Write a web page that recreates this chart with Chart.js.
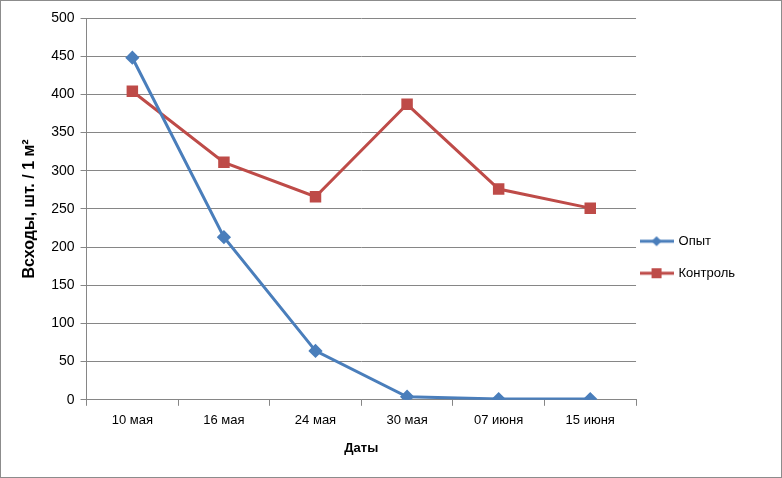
<!DOCTYPE html>
<html>
<head>
<meta charset="utf-8">
<script src="https://cdn.jsdelivr.net/npm/chart.js@4"></script>
<style>
    html, body { margin: 0; padding: 0; background: #fff; }
    #wrap { width: 780px; height: 476px; border: 1px solid #8c8c8c; position: relative; }
</style>
</head>
<body>
<div id="wrap"><canvas id="chart" width="780" height="476"></canvas></div>
<script>
const dates = ["10 мая", "16 мая", "24 мая", "30 мая", "07 июня", "15 июня"];
const opyt = [448, 213, 64, 4, 1, 1];
const kontrol = [404, 311, 266, 387, 276, 251];

const blue = "#4A7EBB";
const red = "#BE4B48";
const font = "'Liberation Sans', Arial, sans-serif";

// значок легенды: линия с маркером, как в Excel
function legendIcon(color, style) {
    const c = document.createElement("canvas");
    c.width = 34; c.height = 12;
    const ctx = c.getContext("2d");
    ctx.strokeStyle = color;
    ctx.lineWidth = 3;
    ctx.beginPath();
    ctx.moveTo(0, 6); ctx.lineTo(34, 6);
    ctx.stroke();
    ctx.fillStyle = color;
    if (style === "rect") {
        ctx.fillRect(12, 1, 10, 10);
    } else {
        ctx.beginPath();
        ctx.moveTo(17, 1); ctx.lineTo(22, 6); ctx.lineTo(17, 11); ctx.lineTo(12, 6);
        ctx.closePath();
        ctx.fill();
    }
    return c;
}

// легенда ближе к области графика
const legendShift = {
    id: "legendShift",
    afterLayout(chart) {
        chart.legend.left -= 14;
        chart.legend.right -= 14;
    }
};

new Chart(document.getElementById("chart"), {
    type: "line",
    data: {
        labels: dates,
        datasets: [{
            label: "Опыт",
            data: opyt,
            borderColor: blue,
            backgroundColor: blue,
            borderWidth: 3,
            pointStyle: "rectRot",
            pointRadius: 5,
            pointHoverRadius: 5,
            tension: 0
        }, {
            label: "Контроль",
            data: kontrol,
            borderColor: red,
            backgroundColor: red,
            borderWidth: 3,
            pointStyle: "rect",
            pointRadius: 6,
            pointHoverRadius: 6,
            tension: 0
        }]
    },
    plugins: [legendShift],
    options: {
        responsive: false,
        animation: false,
        layout: { padding: { top: 17, right: 22, bottom: 17, left: 15 } },
        plugins: {
            tooltip: { enabled: false },
            legend: {
                position: "right",
                title: { display: true, text: "", padding: 11, font: { size: 12 } },
                labels: {
                    usePointStyle: true,
                    pointStyleWidth: 31,
                    font: { family: font, size: 13 },
                    color: "#000",
                    padding: 19,
                    generateLabels(chart) {
                        return chart.data.datasets.map((ds, i) => ({
                            text: ds.label,
                            pointStyle: legendIcon(ds.borderColor, i === 0 ? "rectRot" : "rect"),
                            fontColor: "#000",
                            datasetIndex: i,
                            hidden: false,
                            lineWidth: 0
                        }));
                    }
                }
            }
        },
        scales: {
            x: {
                offset: true,
                grid: { display: true, offset: true, drawOnChartArea: false, tickLength: 6, color: "#868686" },
                border: { color: "#868686" },
                ticks: { font: { family: font, size: 13 }, color: "#000", padding: 7 },
                title: { display: true, text: "Даты", font: { family: font, size: 13, weight: "bold" }, color: "#000", padding: { top: 5 } }
            },
            y: {
                min: 0,
                max: 500,
                ticks: { stepSize: 50, font: { family: font, size: 14 }, color: "#000", padding: 6 },
                grid: { color: "#868686", tickLength: 6 },
                border: { color: "#868686" },
                title: { display: true, text: "Всходы, шт. / 1 м²", font: { family: font, size: 16, weight: "bold" }, color: "#000", padding: { bottom: 6 } }
            }
        }
    }
});
</script>
</body>
</html>
